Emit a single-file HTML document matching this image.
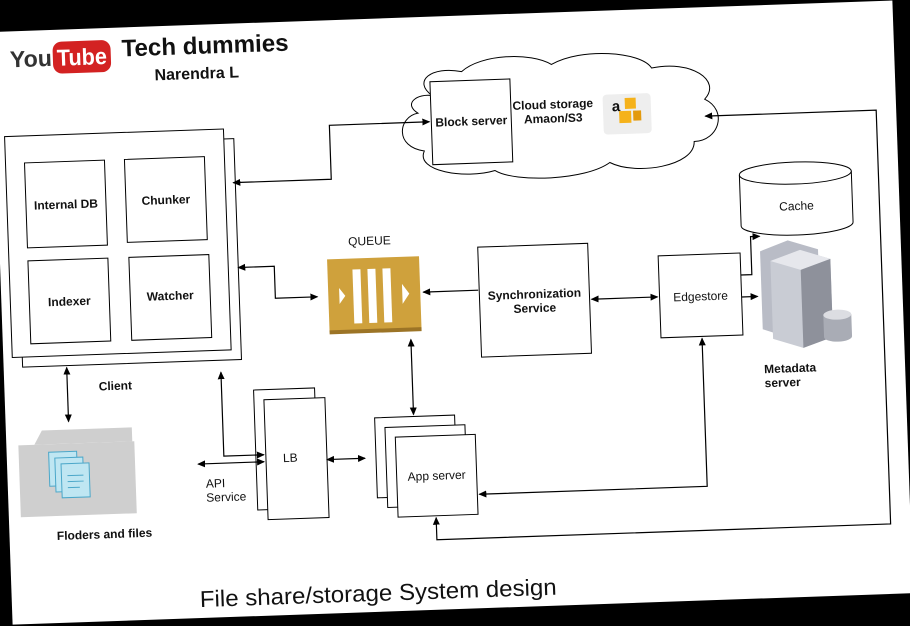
<!DOCTYPE html>
<html><head><meta charset="utf-8"><style>
html,body{margin:0;padding:0;background:#000;}
svg{display:block;}
text{font-family:"Liberation Sans",Arial,sans-serif;fill:#111;}
.b{font-weight:bold;font-size:12px;}
.n{font-size:12px;}
</style></head><body>
<svg width="910" height="626" viewBox="0 0 910 626" xmlns="http://www.w3.org/2000/svg">
<defs>
<marker id="a" markerWidth="8" markerHeight="8" refX="7" refY="4" orient="auto-start-reverse" markerUnits="userSpaceOnUse">
<path d="M0,0.5 L8,4 L0,7.5 Z" fill="#000"/></marker>
</defs>
<rect width="910" height="626" fill="#000"/>
<g transform="rotate(-2 455 313)">
<rect x="2" y="16" width="901" height="593" fill="#fff"/>
<!-- header -->
<text x="19" y="52" font-size="23" font-weight="bold" textLength="42" lengthAdjust="spacingAndGlyphs" style="fill:#333">You</text>
<rect x="62" y="28" width="58" height="32" rx="9" fill="#d32222"/>
<text x="66" y="52" font-size="23" font-weight="bold" textLength="50" lengthAdjust="spacingAndGlyphs" style="fill:#fff">Tube</text>
<text x="131" y="45" font-size="24" font-weight="bold" textLength="167" lengthAdjust="spacingAndGlyphs">Tech dummies</text>
<text x="163" y="70" font-size="16" font-weight="bold">Narendra L</text>

<!-- client -->
<rect x="21" y="131" width="219" height="221" fill="#fff" stroke="#000"/>
<rect x="11" y="121" width="219" height="221" fill="#fff" stroke="#000"/>
<rect x="30" y="148" width="80" height="85" fill="#fff" stroke="#000"/>
<rect x="130" y="148" width="80" height="83" fill="#fff" stroke="#000"/>
<rect x="30" y="246" width="80" height="83" fill="#fff" stroke="#000"/>
<rect x="131" y="246" width="80" height="83" fill="#fff" stroke="#000"/>
<text class="b" x="70" y="195" text-anchor="middle">Internal DB</text>
<text class="b" x="170" y="194" text-anchor="middle">Chunker</text>
<text class="b" x="70" y="292" text-anchor="middle">Indexer</text>
<text class="b" x="171" y="290" text-anchor="middle">Watcher</text>
<text class="b" x="113" y="378" text-anchor="middle">Client</text>

<!-- cloud -->
<path d="M440,95 C420,80 440,65 470,72 C490,55 540,55 560,68 C590,52 650,58 660,75 C700,68 730,90 712,108 C735,120 725,150 700,150 C700,175 640,182 615,168 C590,185 520,185 500,172 C470,180 420,170 430,150 C400,145 405,115 425,112 C410,102 425,92 440,95 Z" fill="#fff" stroke="#000"/>
<rect x="438" y="81" width="80" height="83" fill="#fff" stroke="#000"/>
<text class="b" x="478" y="126" text-anchor="middle">Block server</text>
<text class="b" x="560" y="112" text-anchor="middle">Cloud storage</text>
<text class="b" x="560" y="126" text-anchor="middle">Amaon/S3</text>
<rect x="610" y="100" width="48" height="40" rx="4" fill="#eee"/>
<text x="619" y="117" font-size="15" font-weight="bold">a</text>
<rect x="632" y="104" width="11" height="11" fill="#f5b21b"/>
<rect x="626" y="117" width="12" height="12" fill="#f5b21b"/>
<rect x="640" y="117" width="8" height="10" fill="#e39a0e"/>

<!-- cache -->
<path d="M744,185 L744,236 A56,11 0 0 0 856,236 L856,185" fill="#fff" stroke="#000"/>
<ellipse cx="800" cy="185" rx="56" ry="11" fill="#fff" stroke="#000"/>
<text class="n" x="800" y="222" text-anchor="middle">Cache</text>

<!-- queue -->
<text class="n" x="372" y="242" text-anchor="middle">QUEUE</text>
<rect x="329" y="255" width="92" height="73" fill="#cfa13c"/>
<rect x="329" y="326" width="92" height="4" fill="#9c7426"/>
<rect x="354" y="266" width="8" height="54" fill="#fff"/>
<rect x="369" y="266" width="8" height="54" fill="#fff"/>
<rect x="384" y="266" width="8" height="54" fill="#fff"/>
<path d="M340,284 L346,292 L340,300 Z M403,282 L410,292 L403,302 Z" fill="#fff"/>

<!-- sync & edgestore -->
<rect x="480" y="248" width="110" height="110" fill="#fff" stroke="#000"/>
<text class="b" x="535" y="301" text-anchor="middle">Synchronization</text>
<text class="b" x="535" y="315" text-anchor="middle">Service</text>
<rect x="660" y="263" width="82" height="82" fill="#fff" stroke="#000"/>
<text class="n" x="701" y="309" text-anchor="middle">Edgestore</text>

<!-- metadata server -->
<path d="M762,262 L790,252 L820,262 L820,340 L790,350 L762,340 Z" fill="#b9bcc6"/>
<path d="M772,272 L802,262 L832,272 L832,350 L802,360 L772,350 Z" fill="#c9ccd4"/>
<path d="M772,272 L802,262 L832,272 L802,282 Z" fill="#e6e7ec"/>
<path d="M802,282 L832,272 L832,350 L802,360 Z" fill="#8e919b"/>
<path d="M823,328 L823,350 A14,5 0 0 0 851,350 L851,328" fill="#a9acb5"/>
<ellipse cx="837" cy="328" rx="14" ry="5" fill="#dcdde2"/>
<text class="b" x="762" y="384">Metadata</text>
<text class="b" x="762" y="398">server</text>

<!-- folder -->
<path d="M30,430 L38,416 L128,416 L128,430 Z" fill="#cfcfcf"/>
<rect x="14" y="430" width="116" height="72" fill="#cfcfcf"/>
<rect x="44" y="438" width="28" height="34" fill="#bfe6f2" stroke="#4ba7c9"/>
<rect x="50" y="444" width="28" height="34" fill="#bfe6f2" stroke="#4ba7c9"/>
<rect x="56" y="450" width="28" height="34" fill="#bfe6f2" stroke="#4ba7c9"/>
<path d="M62,462 H78 M62,468 H78 M62,474 H74" stroke="#4ba7c9"/>
<text class="b" x="97" y="526" text-anchor="middle">Floders and files</text>

<!-- LB -->
<rect x="251" y="383" width="61" height="120" fill="#fff" stroke="#000"/>
<rect x="261" y="393" width="61" height="120" fill="#fff" stroke="#000"/>
<text class="n" x="278" y="456">LB</text>
<text class="n" x="200" y="479">API</text>
<text class="n" x="200" y="493">Service</text>

<!-- app servers -->
<rect x="371" y="415" width="80" height="80" fill="#fff" stroke="#000"/>
<rect x="381" y="425" width="80" height="80" fill="#fff" stroke="#000"/>
<rect x="391" y="435" width="80" height="80" fill="#fff" stroke="#000"/>
<text class="n" x="431" y="479" text-anchor="middle">App server</text>

<text x="190" y="598" font-size="23" textLength="357" lengthAdjust="spacingAndGlyphs">File share/storage System design</text>

<!-- connectors -->
<g fill="none" stroke="#000" stroke-width="1.2">
<path d="M238,175 H336 V121 H436" marker-start="url(#a)" marker-end="url(#a)"/>
<path d="M240,260 H276 V292 H318" marker-start="url(#a)" marker-end="url(#a)"/>
<path d="M479,291 H424" marker-end="url(#a)"/>
<path d="M592,304 H658" marker-start="url(#a)" marker-end="url(#a)"/>
<path d="M742,285 H753 V247 H762" marker-end="url(#a)"/>
<path d="M742,307 H758" marker-end="url(#a)"/>
<path d="M410,338 V413" marker-start="url(#a)" marker-end="url(#a)"/>
<path d="M65,354 V408" marker-start="url(#a)" marker-end="url(#a)"/>
<path d="M219,364 V448 H259" marker-start="url(#a)" marker-end="url(#a)"/>
<path d="M193,455 H259" marker-start="url(#a)" marker-end="url(#a)"/>
<path d="M322,455 H360" marker-start="url(#a)" marker-end="url(#a)"/>
<path d="M701,347 V495 H473" marker-start="url(#a)" marker-end="url(#a)"/>
<path d="M429,517 V539 H883 V125 H712" marker-start="url(#a)" marker-end="url(#a)"/>
</g>
</g>
</svg>
</body></html>
